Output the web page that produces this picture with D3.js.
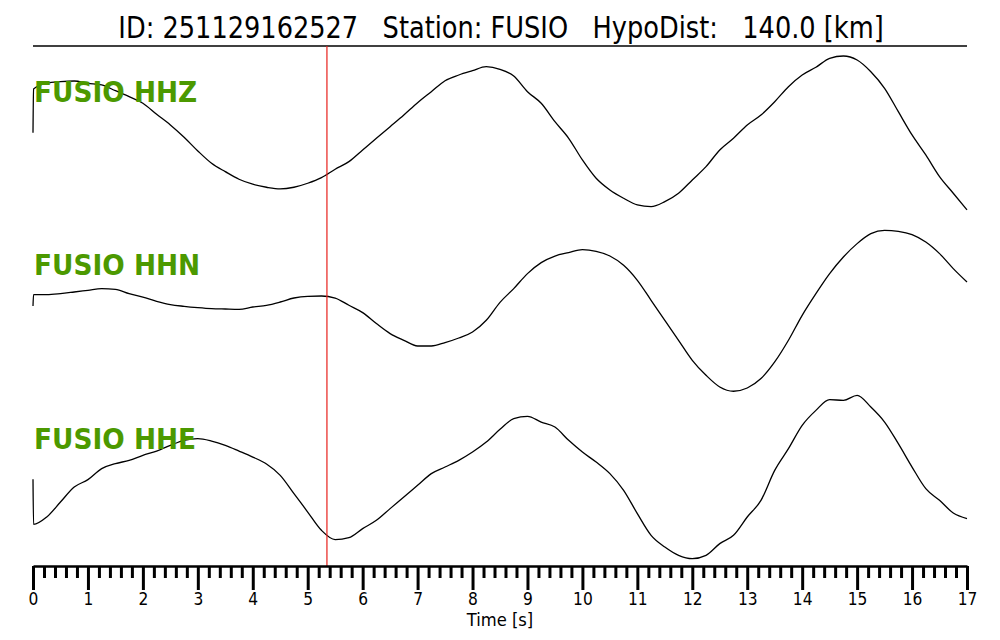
<!DOCTYPE html>
<html>
<head>
<meta charset="utf-8">
<script src="https://cdn.jsdelivr.net/npm/d3@7"></script>
<style>
  html, body { margin: 0; padding: 0; background: #fff; }
  svg { display: block; }
  .title { font-family: "DejaVu Sans Condensed", "DejaVu Sans", sans-serif; font-stretch: condensed; white-space: pre; }
</style>
</head>
<body>
<svg id="chart" width="1000" height="640"></svg>
<script>
// ---- data ----
const titleText = "ID: 251129162527   Station: FUSIO   HypoDist:   140.0 [km]";
const channels = ["FUSIO HHZ", "FUSIO HHN", "FUSIO HHE"];
const pickTime = 5.35;               // red marker [s]
const xTicks = [0,1,2,3,4,5,6,7,8,9,10,11,12,13,14,15,16,17];
const xLabel = "Time [s]";
// sample times: trace start, first sample, then every 0.25 s to 17 s
const sampleTimes = [0, 0.01].concat(d3.range(1, 69).map(i => i * 0.25));

// amplitudes (relative counts)
const ampZ = [0, 43.7, 49.4, 51, 51.7, 49.4, 47.7, 42, 36, 29.4, 18.4, 7.7, -4.6, -18.3, -30.6, -39, -46.6, -51.6,
  -54.6, -56.3, -54.6, -50.6, -45, -36.6, -29, -17.3, -5.6, 6, 17.7, 30, 41, 52, 57.7, 62, 66, 63.4, 56.7, 41,
  29.4, 11, -5.6, -27.3, -45.6, -57.3, -65.6, -72.3, -74, -69, -60.6, -47.3, -34, -17.3, -5.6, 7.7, 17.7, 31, 46,
  57.7, 65.4, 74.4, 76.7, 72.7, 61, 44.4, 21, -2.3, -22.3, -44, -60.6, -77.3];
const ampN = [0, 11.4, 11.4, 12.4, 14, 15.7, 17.4, 16.7, 12.4, 9, 4.7, 1.4, -0.3, -1.6, -2.6, -3, -3.3, -1, 0.7, 4,
  8, 9.7, 10, 8, 0.7, -6.6, -17.6, -27.6, -34.3, -40, -40, -36.6, -32, -26, -14.3, 3.7, 17.4, 32.4, 43.4, 50, 53.4,
  56.4, 54.7, 50, 40.7, 25.7, 5.7, -14.3, -34.3, -54.3, -69.3, -81, -85.3, -82, -72.6, -56, -34.3, -9.3, 12.4, 32.4,
  49, 62.4, 72.4, 75.7, 74.7, 71.4, 64, 52.4, 37.4, 24];
const ampE = [0, -45, -37.7, -22.7, -7.7, -0.3, 10.7, 15.7, 19, 24, 28.3, 34, 39, 40.7, 38.3, 34, 28.3, 22.3, 15.3,
  4, -14.3, -32.7, -51, -60.3, -58.3, -49.3, -41, -29.3, -17.7, -6, 5.7, 12.3, 19, 27.3, 37.3, 50, 60.7, 63, 57.3,
  52.3, 39, 27.3, 17.3, 5.7, -11, -34.3, -56, -67.7, -76, -79.3, -76, -64.3, -56, -37.7, -21, 9, 30.7, 54, 69, 79.7,
  79, 84, 72.3, 57.3, 35.7, 12.3, -9.3, -21, -33.7, -39.3];
const traces = [ampZ, ampN, ampE];
const ampRange = 86.7;

// ---- layout ----
(function draw() {
  const W = 1000;
  const mLeft = 33, mRight = 967, mTop = 46, mBottom = 566;
  const squeeze = 0.91;   // horizontal text compression seen in the reference
  const svg = d3.select("#chart");

  const x = d3.scaleLinear().domain([0, 17]).range([mLeft, mRight]);
  const band = d3.scaleBand().domain(channels).range([mTop, mBottom]).padding(0);

  function placeText(sel, tx, ty, sq) {
    return sel.attr("transform", `translate(${tx},${ty}) scale(${sq || squeeze},1)`);
  }

  // title
  placeText(svg.append("text").attr("class", "title"), W / 2 + 1, 38, 0.92)
    .attr("text-anchor", "middle").attr("font-size", 31).attr("fill", "#000")
    .text(titleText);

  // top rule
  svg.append("line").attr("x1", mLeft).attr("x2", mRight).attr("y1", mTop).attr("y2", mTop)
    .attr("stroke", "#000").attr("stroke-width", 1.5);

  // traces
  channels.forEach((ch, i) => {
    const y0 = band(ch), bh = band.bandwidth();
    const y = d3.scaleLinear().domain([-ampRange, ampRange]).range([y0 + bh, y0]);
    const line = d3.line().x((d, j) => x(sampleTimes[j])).y(d => y(d)).curve(d3.curveMonotoneX);
    svg.append("path").datum(traces[i]).attr("d", line)
      .attr("fill", "none").attr("stroke", "#000").attr("stroke-width", 1.3).attr("stroke-linejoin", "round");
  });

  // labels
  channels.forEach((ch) => {
    placeText(svg.append("text"), mLeft + 1, band(ch) + 56)
      .attr("font-family", "DejaVu Sans, sans-serif").attr("font-weight", "bold")
      .attr("font-size", 29).attr("fill", "#4c9900").text(ch);
  });

  // pick marker
  svg.append("line").attr("x1", x(pickTime)).attr("x2", x(pickTime)).attr("y1", mTop).attr("y2", mBottom)
    .attr("stroke", "#e8201c").attr("stroke-width", 1.2);

  // axis
  const minorVals = d3.range(0, 86).map(i => i * 0.2).filter(v => Math.abs(v - Math.round(v)) > 1e-6);
  const gMinor = svg.append("g").attr("transform", `translate(0,${mBottom})`)
    .call(d3.axisBottom(x).tickValues(minorVals).tickSize(12).tickSizeOuter(0).tickFormat(""));
  gMinor.select(".domain").remove();
  gMinor.selectAll(".tick line").attr("stroke-width", 3);

  const gMajor = svg.append("g").attr("transform", `translate(0,${mBottom})`)
    .call(d3.axisBottom(x).tickValues(xTicks).tickSize(24).tickSizeOuter(0).tickPadding(4).tickFormat(d3.format("d")));
  gMajor.select(".domain").attr("stroke-width", 2.5);
  gMajor.selectAll(".tick line").attr("stroke-width", 3);
  gMajor.selectAll(".tick text")
    .attr("y", null).attr("dy", null)
    .attr("transform", `translate(0,39) scale(${squeeze},1)`)
    .attr("font-family", "DejaVu Sans, sans-serif").attr("font-size", 17).attr("fill", "#000");

  placeText(svg.append("text"), W / 2, 626)
    .attr("text-anchor", "middle")
    .attr("font-family", "DejaVu Sans, sans-serif").attr("font-size", 18).attr("fill", "#000")
    .text(xLabel);
})();
</script>
</body>
</html>
